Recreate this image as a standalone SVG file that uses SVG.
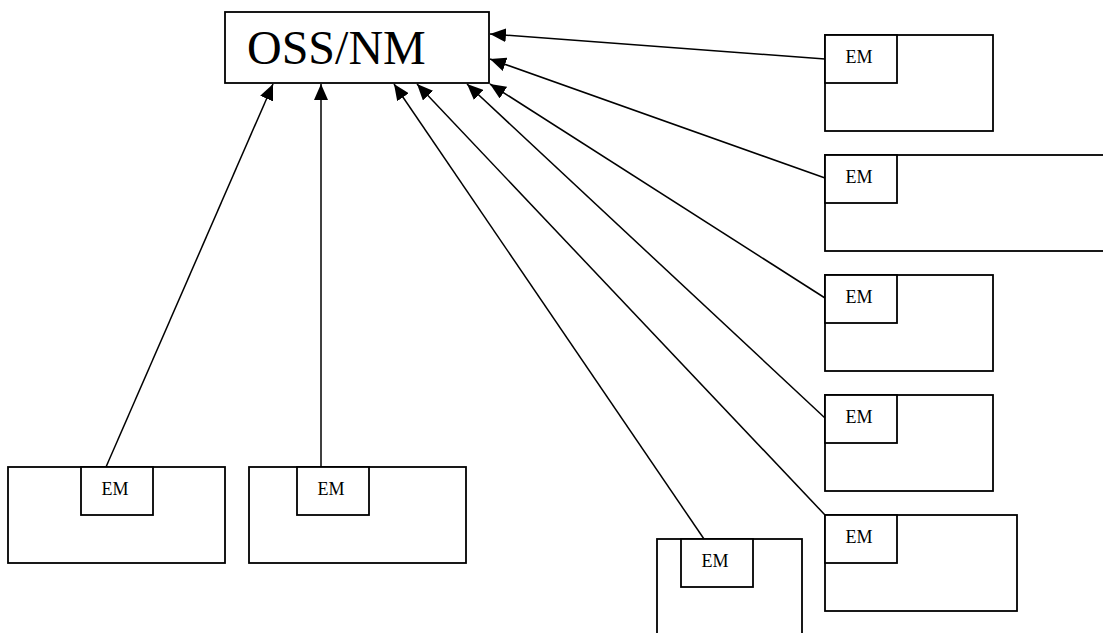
<svg xmlns="http://www.w3.org/2000/svg" width="1103" height="633" viewBox="0 0 1103 633">
<defs>
<style>
.box{fill:#fff;stroke:#000;stroke-width:1.8}
.em{font-family:"Liberation Serif","Times New Roman",serif;font-size:18px;fill:#000;text-anchor:middle}
.big{font-family:"Liberation Serif","Times New Roman",serif;font-size:48px;fill:#000}
.conn line{stroke:#000;stroke-width:1.5;marker-end:url(#arr)}
</style>
<marker id="arr" markerUnits="userSpaceOnUse" markerWidth="17" markerHeight="14" refX="16" refY="7" orient="auto">
<path d="M0,0 L16,7 L0,14 z" fill="#000"/>
</marker>
</defs>
<rect width="1103" height="633" fill="#fff"/>
<g id="oss">
<rect class="box" x="225" y="12" width="264" height="71"/>
<text class="big" x="247" y="64">OSS/NM</text>
</g>
<g id="emA">
<rect class="box" x="8" y="467" width="217" height="96"/>
<rect class="box" x="81" y="467" width="72" height="48"/>
<text class="em" x="115" y="495">EM</text>
</g>
<g id="emB">
<rect class="box" x="249" y="467" width="217" height="96"/>
<rect class="box" x="297" y="467" width="72" height="48"/>
<text class="em" x="331" y="495">EM</text>
</g>
<g id="emC">
<rect class="box" x="657" y="539" width="145" height="110"/>
<rect class="box" x="681" y="539" width="72" height="48"/>
<text class="em" x="715" y="567">EM</text>
</g>
<g id="em1">
<rect class="box" x="825" y="35" width="168" height="96"/>
<rect class="box" x="825" y="35" width="72" height="48"/>
<text class="em" x="859" y="63">EM</text>
</g>
<g id="em2">
<rect class="box" x="825" y="155" width="290" height="96"/>
<rect class="box" x="825" y="155" width="72" height="48"/>
<text class="em" x="859" y="183">EM</text>
</g>
<g id="em3">
<rect class="box" x="825" y="275" width="168" height="96"/>
<rect class="box" x="825" y="275" width="72" height="48"/>
<text class="em" x="859" y="303">EM</text>
</g>
<g id="em4">
<rect class="box" x="825" y="395" width="168" height="96"/>
<rect class="box" x="825" y="395" width="72" height="48"/>
<text class="em" x="859" y="423">EM</text>
</g>
<g id="em5">
<rect class="box" x="825" y="515" width="192" height="96"/>
<rect class="box" x="825" y="515" width="72" height="48"/>
<text class="em" x="859" y="543">EM</text>
</g>
<g id="connectors" class="conn">
<line x1="106" y1="467" x2="273" y2="84"/>
<line x1="321" y1="467" x2="321" y2="84"/>
<line x1="704" y1="539" x2="394" y2="84"/>
<line x1="825" y1="515" x2="417" y2="84"/>
<line x1="825" y1="418" x2="467" y2="84"/>
<line x1="825" y1="298" x2="490" y2="84"/>
<line x1="825" y1="178" x2="490" y2="59"/>
<line x1="825" y1="59" x2="490" y2="34"/>
</g>
</svg>
